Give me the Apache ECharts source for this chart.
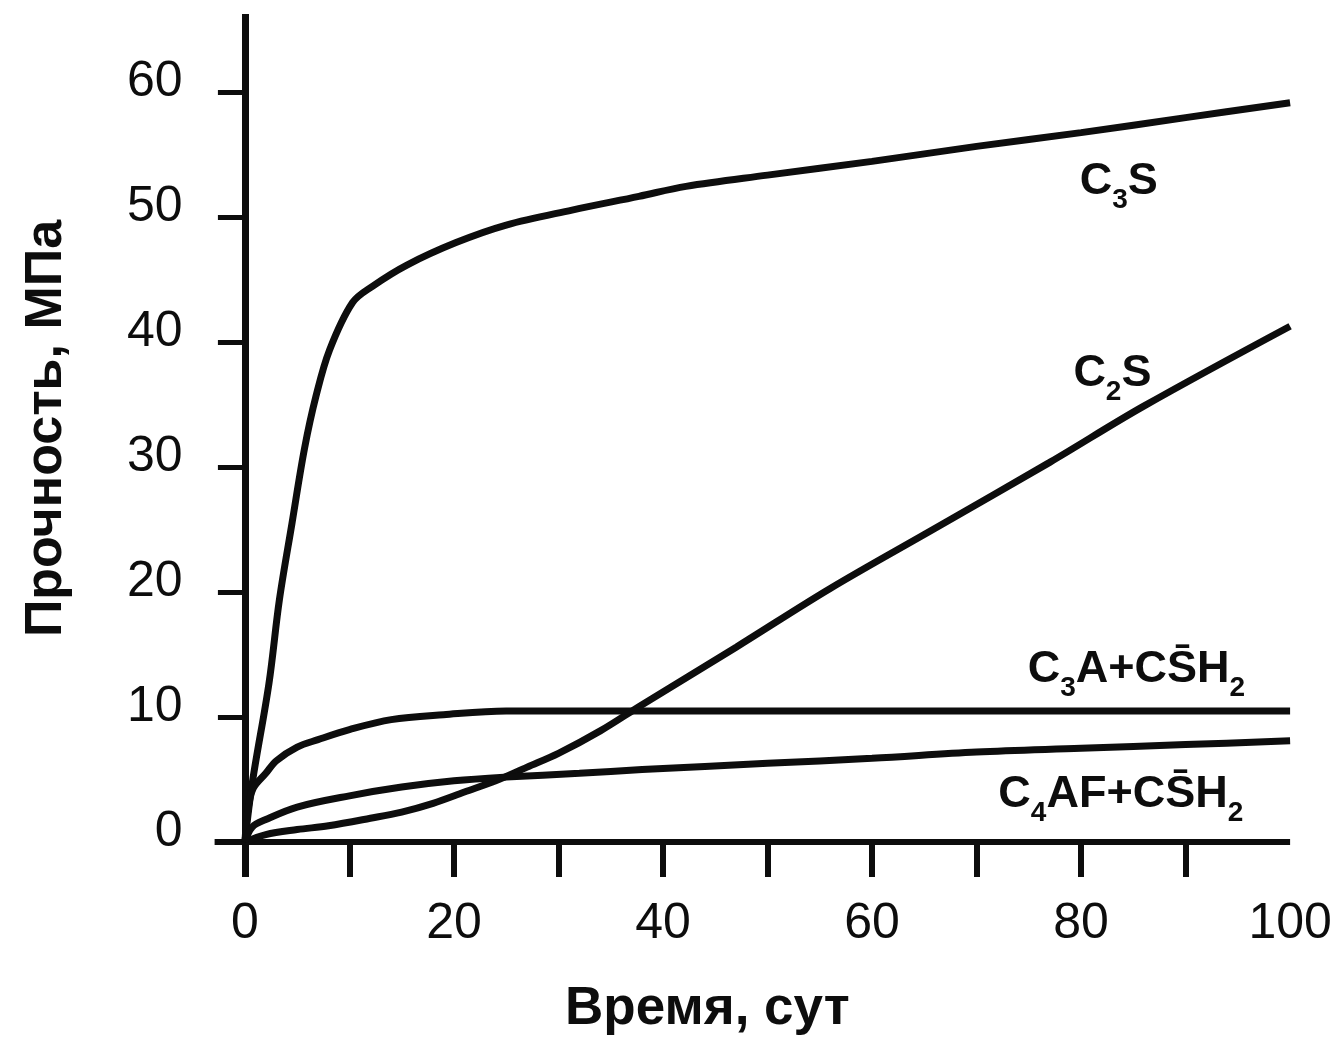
<!DOCTYPE html>
<html>
<head>
<meta charset="utf-8">
<title>Прочность клинкерных минералов</title>
<script src="https://cdn.jsdelivr.net/npm/echarts@6/dist/echarts.min.js"></script>
<style>
  html, body { margin: 0; padding: 0; background: #fff; }
  #chart { width: 1341px; height: 1038px; }
</style>
</head>
<body>
<div id="chart"></div>
<script>
// Strength of the clinker phases vs. curing time
const c3sDays   = [0, 0.7, 2.3, 3.3, 4.5, 5.7, 6.8, 8.1, 10.3, 12.2, 15.5, 20.2, 25.0, 31.3, 37.7, 42.2, 50, 60, 70, 80, 90, 100];
const c3sValues = [0, 4.7, 12.7, 19.4, 25.5, 31.5, 35.7, 39.4, 43.2, 44.5, 46.2, 48.0, 49.4, 50.6, 51.7, 52.5, 53.4, 54.5, 55.7, 56.8, 58.0, 59.2];

const c2sDays   = [0, 2, 5, 8, 12, 15, 18, 21, 24, 27, 30, 34, 38, 47, 56, 66, 77, 86, 100];
const c2sValues = [0, 0.6, 1.0, 1.3, 1.9, 2.4, 3.1, 4.0, 4.9, 6.0, 7.1, 8.9, 11.0, 15.6, 20.3, 25.1, 30.4, 34.9, 41.3];

const c3aDays   = [0, 0.3, 0.8, 2, 3, 5, 7, 10, 14, 19, 25, 40, 60, 80, 100];
const c3aValues = [0, 2.6, 4.3, 5.5, 6.5, 7.6, 8.2, 9.0, 9.8, 10.2, 10.5, 10.5, 10.5, 10.5, 10.5];

const c4afDays   = [0, 0.7, 2, 5, 10, 15, 20, 25, 32, 38, 50, 60, 70, 80, 90, 100];
const c4afValues = [0, 1.2, 1.8, 2.8, 3.7, 4.4, 4.9, 5.2, 5.5, 5.8, 6.3, 6.7, 7.2, 7.5, 7.8, 8.1];

const xTickValues  = [10, 20, 30, 40, 50, 60, 70, 80, 90];
const xLabelValues = [0, 20, 40, 60, 80, 100];
const yTickValues  = [0, 10, 20, 30, 40, 50, 60];
const yLabelValues = [0, 10, 20, 30, 40, 50, 60];

const ink = '#0d0d0d';
const pair = (xs, ys) => xs.map((x, i) => [x, ys[i]]);

const richStyle = {
  m: { fontFamily: 'Liberation Sans', fontWeight: 'bold', fontSize: 45, color: ink, lineHeight: 66, verticalAlign: 'middle' },
  s: { fontFamily: 'Liberation Sans', fontWeight: 'bold', fontSize: 28, color: ink, lineHeight: 28, verticalAlign: 'bottom' }
};

function curve(name, data, labelCoord, labelText) {
  return {
    name: name,
    type: 'line',
    data: data,
    smooth: 0.35,
    showSymbol: false,
    lineStyle: { color: ink, width: 7 },
    animation: false,
    markPoint: {
      symbol: 'circle',
      symbolSize: 0,
      animation: false,
      label: { show: true, position: 'inside', formatter: labelText, rich: richStyle },
      data: [{ coord: labelCoord }]
    }
  };
}

const chart = echarts.init(document.getElementById('chart'));
chart.setOption({
  backgroundColor: '#fff',
  animation: false,
  grid: { left: 214.6, top: 14, width: 1075.5, height: 863, containLabel: false, outerBoundsMode: 'none' },
  xAxis: {
    type: 'value',
    min: -2.9,
    max: 100,
    axisLine: { onZero: true, lineStyle: { color: ink, width: 6, cap: 'butt' } },
    axisTick: { show: true, customValues: xTickValues, length: 35, inside: false, lineStyle: { color: ink, width: 6 } },
    axisLabel: {
      customValues: xLabelValues, fontFamily: 'Liberation Sans', fontSize: 50, color: ink,
      margin: 22
    },
    splitLine: { show: false },
    name: 'Время, сут',
    nameLocation: 'middle',
    nameGap: 106,
    nameMoveOverlap: false,
    nameTextStyle: { fontFamily: 'Liberation Sans', fontWeight: 'bold', fontSize: 53, color: ink, padding: [0, 90, 0, 0] }
  },
  yAxis: {
    type: 'value',
    min: -2.8,
    max: 66.3,
    axisLine: { onZero: true, lineStyle: { color: ink, width: 7, cap: 'butt' } },
    axisTick: { show: true, customValues: yTickValues, length: 27, inside: false, lineStyle: { color: ink, width: 5 } },
    axisLabel: {
      customValues: yLabelValues, fontFamily: 'Liberation Sans', fontSize: 50, color: ink,
      margin: 32, verticalAlign: 'bottom', lineHeight: 20
    },
    splitLine: { show: false },
    name: 'Прочность, МПа',
    nameLocation: 'middle',
    nameGap: 142,
    nameMoveOverlap: false,
    nameTextStyle: { fontFamily: 'Liberation Sans', fontWeight: 'bold', fontSize: 52, color: ink, padding: [0, 0, 0, 34] }
  },
  series: [
    curve('C3S', pair(c3sDays, c3sValues), [83.6, 52.9], '{m|C}{s|3}{m|S}'),
    curve('C2S', pair(c2sDays, c2sValues), [83.0, 37.5], '{m|C}{s|2}{m|S}'),
    curve('C3A+CSH2', pair(c3aDays, c3aValues), [85.3, 13.8], '{m|C}{s|3}{m|A+CS\u0304H}{s|2}'),
    curve('C4AF+CSH2', pair(c4afDays, c4afValues), [83.8, 3.8], '{m|C}{s|4}{m|AF+CS\u0304H}{s|2}')
  ]
});
</script>
</body>
</html>
